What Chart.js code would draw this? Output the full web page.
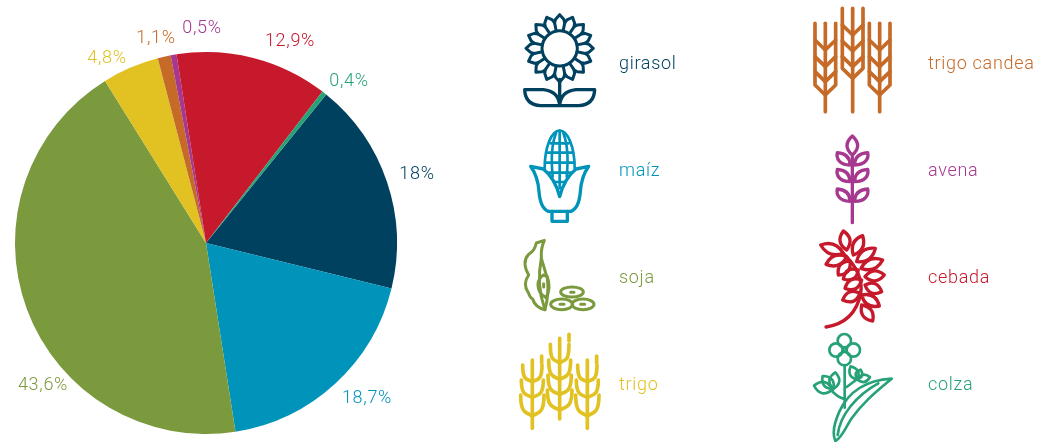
<!DOCTYPE html>
<html>
<head>
<meta charset="utf-8">
<title>Cultivos</title>
<script src="https://cdn.jsdelivr.net/npm/chart.js@4"></script>
<style>
  html, body { margin: 0; padding: 0; background: #fff; }
  #wrap { width: 1048px; height: 442px; }
</style>
</head>
<body>
<div id="wrap"><canvas id="pieChart" width="1048" height="442"></canvas></div>
<script>
const categories = ["girasol", "maíz", "soja", "trigo", "trigo candea", "avena", "cebada", "colza"];
const shares = [18, 18.7, 43.6, 4.8, 1.1, 0.5, 12.9, 0.4];
const colors = ["#00415f", "#0094bb", "#7b9a3e", "#e1c222", "#c56a27", "#a6388f", "#c6192b", "#27a277"];

// where the percent labels sit (centre of text), same order as categories
const shareLabelPos = [[417, 174], [367, 398], [43, 385], [107, 58], [156, 38], [202, 28], [290, 41], [349, 81]];
// legend text: x, y of the left edge / middle
const legendPos = [[619, 64], [619, 171], [619, 278], [619, 385], [928, 64], [928, 171], [928, 278], [928, 385]];

const labelFont = '300 18px Roboto, sans-serif';

function lens(ctx, x0, y0, x1, y1, w) {
    // leaf outline from base to tip
    const mx = (x0 + x1) / 2, my = (y0 + y1) / 2;
    const dx = x1 - x0, dy = y1 - y0, d = Math.hypot(dx, dy);
    const nx = -dy / d * w, ny = dx / d * w;
    ctx.beginPath();
    ctx.moveTo(x0, y0);
    ctx.quadraticCurveTo(mx + nx, my + ny, x1, y1);
    ctx.quadraticCurveTo(mx - nx, my - ny, x0, y0);
    ctx.closePath();
    ctx.stroke();
}

function stroke(ctx, d) {
    ctx.stroke(new Path2D(d));
}

function drawGirasol(ctx) {
    const cx = 149, cy = 145, n = 16, step = Math.PI * 2 / n;
    ctx.lineWidth = 9;
    ctx.beginPath();
    for (let i = 0; i < n; i++) {
        const a = i * step - Math.PI / 2;
        ctx.lineTo(cx + 101 * Math.cos(a), cy + 101 * Math.sin(a));
        ctx.lineTo(cx + 88 * Math.cos(a + 0.14), cy + 88 * Math.sin(a + 0.14));
        ctx.lineTo(cx + 78 * Math.cos(a + step / 2), cy + 78 * Math.sin(a + step / 2));
        ctx.lineTo(cx + 88 * Math.cos(a + step - 0.14), cy + 88 * Math.sin(a + step - 0.14));
    }
    ctx.closePath();
    ctx.stroke();
    ctx.beginPath();
    ctx.arc(cx, cy, 53, 0, Math.PI * 2);
    ctx.stroke();
    for (let i = 0; i < n; i++) {
        const b = (i + 0.5) * step - Math.PI / 2;
        ctx.beginPath();
        ctx.moveTo(cx + 53 * Math.cos(b), cy + 53 * Math.sin(b));
        ctx.lineTo(cx + 78 * Math.cos(b), cy + 78 * Math.sin(b));
        ctx.stroke();
    }
    ctx.lineWidth = 10;
    stroke(ctx, "M149 238 L149 317 M44 269 L100 269 Q146 274 149 317 L92 317 Q46 315 44 269 Z M254 269 L198 269 Q152 274 149 317 L206 317 Q252 315 254 269 Z");
}

function drawMaiz(ctx) {
    ctx.lineWidth = 8;
    stroke(ctx, "M104 505 C104 440 125 392 149 392 C173 392 194 440 194 505");
    stroke(ctx, "M149 392 L149 565 M138 400 C122 440 124 490 128 530 M160 400 C176 440 174 490 170 530");
    stroke(ctx, "M122 430 L176 430 M110 458 L188 458 M105 488 L193 488 M116 518 L182 518 M132 546 L166 546");
    ctx.lineWidth = 10;
    stroke(ctx, "M62 499 L100 507 Q135 535 149 590 Q163 535 198 507 L236 499 Q214 530 211 575 Q207 625 183 634 L115 634 Q91 625 87 575 Q84 530 62 499 Z");
    stroke(ctx, "M126 634 L126 664 L172 664 L172 634");
}

function drawSoja(ctx) {
    ctx.lineWidth = 9;
    stroke(ctx, "M103 46 L79 54 Q74 78 56 88 Q34 112 56 150 Q36 178 56 205 Q60 218 68 222 Q76 248 105 254 Q118 205 112 160 Q100 120 94 100 Q92 70 103 46 Z");
    stroke(ctx, "M94 100 Q78 180 105 254");
    stroke(ctx, "M100 150 Q84 160 84 180 Q84 205 108 218 Q124 190 112 155 Z");
    stroke(ctx, "M101 176 L101 186");
    [[186, 201, 34, 15], [155, 238, 33, 16], [219, 238, 33, 16]].forEach(function (b) {
        ctx.beginPath();
        ctx.ellipse(b[0], b[1], b[2], b[3], 0, 0, Math.PI * 2);
        ctx.stroke();
    });
    stroke(ctx, "M182 202 L192 202 M150 238 L162 238 M212 238 L224 238");
}

function drawWheatStalk(ctx, cx, top, bottom, lobes) {
    stroke(ctx, `M${cx} ${top} L${cx} ${bottom}`);
    stroke(ctx, `M${cx + 28} ${top - 12} L${cx + 28} ${top + 8}`);
    lobes.forEach(function (l) {
        const y = l[0], hw = l[1], h = l[2];
        stroke(ctx, `M${cx - hw} ${y} C${cx - hw} ${y + h * 0.9} ${cx - 18} ${y + h * 0.85} ${cx} ${y + h} C${cx + 18} ${y + h * 0.85} ${cx + hw} ${y + h * 0.9} ${cx + hw} ${y}`);
    });
}

function drawTrigo(ctx) {
    ctx.lineWidth = 11;
    drawWheatStalk(ctx, 149, 340, 582, [[358, 28, 55], [405, 33, 58], [450, 35, 58], [495, 37, 60]]);
    drawWheatStalk(ctx, 67, 405, 610, [[420, 29, 50], [465, 33, 52], [510, 35, 62]]);
    drawWheatStalk(ctx, 232, 405, 610, [[420, 29, 50], [465, 33, 52], [510, 35, 62]]);
}

function drawCandeaStalk(ctx, cx, top, sideBottom, bottom, chevrons) {
    const w = 31;
    stroke(ctx, `M${cx} ${top} L${cx} ${bottom}`);
    stroke(ctx, `M${cx - w} ${top} L${cx - w} ${sideBottom} L${cx} ${sideBottom + 30} L${cx + w} ${sideBottom} L${cx + w} ${top}`);
    chevrons.forEach(function (y) {
        stroke(ctx, `M${cx - w} ${y} L${cx} ${y + 30} L${cx + w} ${y}`);
    });
}

function drawCandea(ctx) {
    ctx.lineWidth = 11;
    drawCandeaStalk(ctx, 158, 25, 205, 335, [75, 123, 170]);
    drawCandeaStalk(ctx, 76, 70, 255, 335, [120, 170, 215]);
    drawCandeaStalk(ctx, 239, 70, 255, 335, [120, 170, 215]);
}

function drawAvena(ctx) {
    stroke(ctx, "M157 470 L157 668");
    lens(ctx, 157, 465, 157, 408, 32);
    [495, 545, 604].forEach(function (y) {
        stroke(ctx, `M150 ${y} C150 ${y - 25} 135 ${y - 35} 112 ${y - 37} C108 ${y - 20} 118 ${y} 150 ${y}`);
        stroke(ctx, `M164 ${y} C164 ${y - 25} 179 ${y - 35} 203 ${y - 37} C207 ${y - 20} 197 ${y} 164 ${y}`);
    });
}

function drawCebada(ctx) {
    stroke(ctx, "M78 306 Q165 292 182 205 Q192 145 130 85");
    const leaves = [
        [140, 75, 130, 18], [160, 90, 188, 32], [170, 110, 226, 70], [183, 130, 248, 105],
        [195, 155, 253, 150], [195, 180, 245, 200], [185, 210, 238, 243], [185, 240, 218, 288],
        [130, 85, 62, 60], [140, 95, 78, 118], [150, 108, 115, 150], [175, 135, 130, 162],
        [185, 165, 135, 190], [180, 205, 128, 225]
    ];
    leaves.forEach(function (l) {
        lens(ctx, l[0], l[1], l[2], l[3], 30);
    });
}

function drawColza(ctx) {
    ctx.lineWidth = 8;
    [[133, 347, 20], [108, 375, 20], [133, 401, 20], [160, 375, 20], [133, 374, 5]].forEach(function (c) {
        ctx.beginPath();
        ctx.arc(c[0], c[1], c[2], 0, Math.PI * 2);
        ctx.stroke();
    });
    stroke(ctx, "M134 420 L134 548 M95 497 Q110 515 134 523 M140 486 L172 462");
    lens(ctx, 98, 494, 42, 482, 34);
    lens(ctx, 100, 492, 68, 453, 30);
    lens(ctx, 100, 492, 106, 442, 30);
    lens(ctx, 172, 464, 152, 424, 26);
    lens(ctx, 172, 462, 182, 434, 20);
    lens(ctx, 172, 464, 210, 456, 22);
    stroke(ctx, "M275 461 C200 465 145 500 118 560 C100 600 98 630 106 648 C125 640 135 610 155 580 C190 530 235 495 275 461 Z");
    stroke(ctx, "M113 630 C120 570 170 510 235 475");
}

// icons are drawn in the coordinates of a 3x crop, so each has its own origin
const icons = [
    [drawGirasol, 510, 0], [drawMaiz, 510, 0], [drawSoja, 510, 225], [drawTrigo, 510, 225],
    [drawCandea, 800, 0], [drawAvena, 800, 0], [drawCebada, 800, 225], [drawColza, 800, 225]
];

const extrasPlugin = {
    id: "extras",
    afterDraw(chart) {
        const ctx = chart.ctx;
        ctx.save();
        ctx.font = labelFont;
        ctx.letterSpacing = "0.7px";
        ctx.textBaseline = "middle";
        shares.forEach(function (v, i) {
            ctx.fillStyle = colors[i];
            ctx.textAlign = "center";
            ctx.fillText(String(v).replace(".", ",") + "%", shareLabelPos[i][0], shareLabelPos[i][1]);
            ctx.textAlign = "left";
            ctx.fillText(categories[i], legendPos[i][0], legendPos[i][1]);
        });
        ctx.letterSpacing = "0px";
        icons.forEach(function (ic, i) {
            ctx.save();
            ctx.translate(ic[1], ic[2]);
            ctx.scale(1 / 3, 1 / 3);
            ctx.strokeStyle = colors[i];
            ctx.lineWidth = 10;
            ctx.lineJoin = "round";
            ctx.lineCap = "round";
            ic[0](ctx);
            ctx.restore();
        });
        ctx.restore();
    }
};

new Chart(document.getElementById("pieChart"), {
    type: "pie",
    data: {
        labels: categories,
        datasets: [{
            data: shares,
            backgroundColor: colors,
            borderWidth: 0
        }]
    },
    options: {
        responsive: false,
        animation: false,
        rotation: 39,
        layout: { padding: { left: 15, right: 651, top: 52, bottom: 8 } },
        plugins: {
            legend: { display: false },
            tooltip: { enabled: false }
        }
    },
    plugins: [extrasPlugin]
});
</script>
</body>
</html>
